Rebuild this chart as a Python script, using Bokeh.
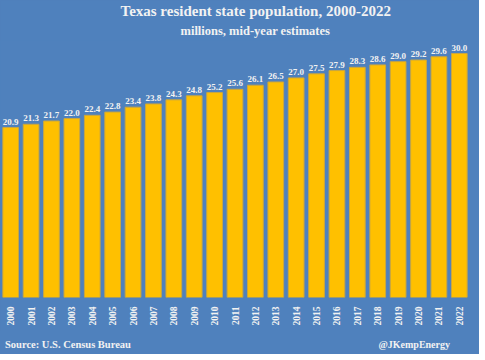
from bokeh.plotting import figure
from bokeh.layouts import column
from bokeh.models import FixedTicker, ColumnDataSource, Title, Div
from bokeh.core.properties import value
from bokeh.embed import file_html
from bokeh.resources import INLINE
import math

years = [str(y) for y in range(2000, 2023)]
population = [20.9, 21.3, 21.7, 22.0, 22.4, 22.8, 23.4, 23.8, 24.3, 24.8, 25.2, 25.6,
              26.1, 26.5, 27.0, 27.5, 27.9, 28.3, 28.6, 29.0, 29.2, 29.6, 30.0]
value_labels = [f"{v:.1f}" for v in population]

title_text = "Texas resident state population, 2000-2022"
subtitle_text = "millions, mid-year estimates"
source_text = "Source: U.S. Census Bureau"
credit_text = "@JKempEnergy"

BG = "#4F81BD"
BAR = "#FFC000"
TXT = "#F2F2F2"
FONT = "Liberation Serif"
W = 469

xs = list(range(len(years)))
src = ColumnDataSource(dict(x=xs, top=population, lab=value_labels))

p = figure(width=W, height=331, x_range=(-0.5, len(years) - 0.5), y_range=(0, 31.6),
           output_backend="svg", toolbar_location=None,
           min_border_left=0, min_border_right=0, min_border_top=34, min_border_bottom=34,
           styles={"background-color": BG})
p.background_fill_color = BG
p.border_fill_color = BG
p.outline_line_color = None
p.grid.visible = False
p.yaxis.visible = False

p.vbar(x="x", top="top", width=0.77, bottom=0, source=src,
       fill_color=BAR, line_color="#C9A640", line_width=1)
p.text(x="x", y="top", text="lab", source=src, y_offset=-3,
       text_align="center", text_baseline="bottom",
       text_font=value(FONT), text_font_style="bold", text_font_size="9px", text_color=TXT)

ax = p.xaxis[0]
ax.ticker = FixedTicker(ticks=xs)
ax.major_label_overrides = {i: y for i, y in zip(xs, years)}
ax.major_label_orientation = math.pi / 2
ax.axis_line_color = None
ax.major_tick_line_color = None
ax.minor_tick_line_color = None
ax.major_tick_out = 0
ax.minor_tick_out = 0
ax.major_tick_in = 0
ax.minor_tick_in = 0
ax.major_label_standoff = 9
ax.major_label_text_font = FONT
ax.major_label_text_font_style = "bold"
ax.major_label_text_font_size = "9.5px"
ax.major_label_text_color = TXT

def style_title(t, size):
    t.text_font = FONT
    t.text_font_style = "bold"
    t.text_font_size = size
    t.text_color = TXT

p.title.text = title_text
p.title.align = "left"
p.title.offset = 120
p.title.standoff = 0
style_title(p.title, "15px")

sub = Title(text=subtitle_text, align="left", offset=180, standoff=6)
style_title(sub, "12.5px")
p.add_layout(sub, "above")

# footer strip
footer_html = (
    f'<div style="display:flex;justify-content:space-between;align-items:baseline;'
    f'width:445px;font-family:\'{FONT}\';font-weight:bold;color:{TXT};'
    f'font-size:10.5px;line-height:13px;">'
    f'<span>{source_text}</span><span style="font-size:10px">{credit_text}</span></div>'
)
foot = Div(text=footer_html, width=W, height=13,
           styles={"background-color": BG, "overflow": "visible"})

layout = column(p, foot, spacing=0, styles={"background-color": BG})
open("out.html", "w").write(file_html(layout, INLINE))
